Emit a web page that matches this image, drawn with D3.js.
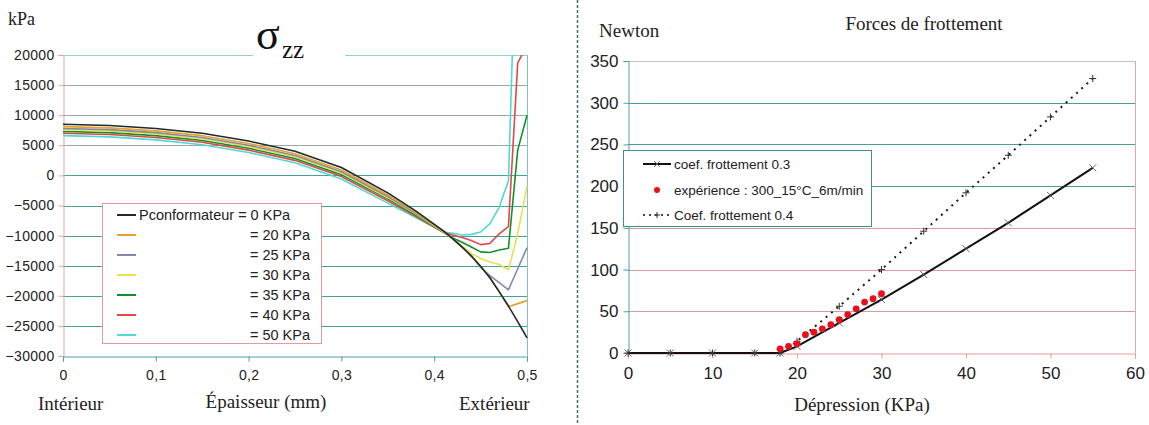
<!DOCTYPE html>
<html><head><meta charset="utf-8">
<script src="https://cdn.jsdelivr.net/npm/d3@7"></script>
<style>
html,body{margin:0;padding:0;background:#fff;}
svg{display:block;}
.serif{font-family:"Liberation Serif","Times New Roman",serif;}
</style></head>
<body>
<svg id="c" width="1149" height="425"></svg>
<script>
// ---------- Left chart data (sigma zz) ----------
const thickness = [0,0.05,0.1,0.15,0.2,0.25,0.3,0.35,0.38,0.41,0.42,0.43,0.44,0.45,0.46,0.47,0.48,0.49,0.5];
const sigmaP0  = [8500,8300,7800,7000,5700,4000,1300,-2900,-5900,-9200,-10500,-11900,-13400,-15100,-17000,-19300,-21700,-24300,-27000];
const sigmaP20 = [8100,7900,7400,6600,5300,3600,900,-3250,-6150,-9300,-10550,-11900,-13400,-15100,-17000,-19300,-21800,-21300,-20800];
const sigmaP25 = [7800,7600,7100,6300,5000,3300,600,-3500,-6300,-9350,-10550,-11850,-13300,-15300,-16650,-17800,-19000,-15500,-12000];
const sigmaP30 = [7600,7400,6900,6100,4800,3100,400,-3700,-6400,-9400,-10500,-11700,-13000,-13800,-14400,-14800,-15700,-9700,-1800];
const sigmaP35 = [7300,7100,6600,5800,4500,2800,100,-3900,-6600,-9450,-10400,-11100,-11900,-12700,-12800,-12400,-12100,4200,10000];
const sigmaP40 = [7000,6800,6300,5500,4200,2500,-200,-4200,-6800,-9500,-9900,-10300,-10800,-11500,-11300,-9700,-8500,18700,21600];
const sigmaP50 = [6600,6400,5900,5100,3800,2100,-600,-4600,-7000,-9400,-9600,-9900,-9800,-9400,-8000,-5300,-900,49000,60000];
const seriesLabels = ["Pconformateur = 0 KPa","= 20 KPa","= 25 KPa","= 30 KPa","= 35 KPa","= 40 KPa","= 50 KPa"];
const seriesColors = ["#1c2b2b","#e8a030","#8088b0","#e8e050","#10902a","#e04848","#50d8d8"];
const leftYTicks = [20000,15000,10000,5000,0,-5000,-10000,-15000,-20000,-25000,-30000];
const leftXTicks = [0,0.1,0.2,0.3,0.4,0.5];

// ---------- Right chart data (forces de frottement) ----------
const depression = [0,5,10,15,18,20,25,30,35,40,45,50,55];
const coef03 = [0,0,0,0,0,8,36,64,94,125,156,189,222];
const coef04 = [0,0,0,0,0,14,56,100,146,192,237,283,329];
const expX = [18,19,20,21,22,23,24,25,26,27,28,29,30];
const expY = [5,8,11,22,25,29,34,40,46,53,61,65,71];
const rightYTicks = [0,50,100,150,200,250,300,350];
const rightXTicks = [0,10,20,30,40,50,60];
const rightLegend = ["coef. frottement 0.3","expérience : 300_15°C_6m/min","Coef. frottement 0.4"];

const svg = d3.select("#c");
const TEAL = "#4a9ea1";

function gridLine(g, x1, x2, y, col) {
  g.append("line").attr("x1",x1).attr("x2",x2).attr("y1",y).attr("y2",y).attr("stroke",col).attr("stroke-width",1.2);
}

// ================= LEFT CHART =================
const xL = d3.scaleLinear().domain([0,0.5]).range([63,527]);
const yL = d3.scaleLinear().domain([-30000,20000]).range([356,55]);
const gL = svg.append("g");

leftYTicks.forEach(t => {
  if (t !== -30000) gridLine(gL, xL(0), xL(0.5), Math.round(yL(t))+0.5, t===20000 ? "#8fd0d2" : (t>0 ? "#9aa8a9" : TEAL));
});
gL.append("line").attr("x1",xL(0.5)+0.5).attr("x2",xL(0.5)+0.5).attr("y1",yL(20000)).attr("y2",yL(-30000)).attr("stroke","#7cc6c8");

const yAxisL = d3.axisLeft(yL).tickValues(leftYTicks).tickSize(5).tickFormat(d3.format("d"));
const yaL = gL.append("g").attr("transform",`translate(${xL(0)+0.5},0)`).call(yAxisL);
yaL.select(".domain").attr("stroke","#e7a3a3");
yaL.selectAll(".tick line").attr("stroke","#e7a3a3");
yaL.selectAll("text").attr("font-size",14).attr("fill","#222").attr("x",-9)
  .attr("font-family","Liberation Sans, Arial, sans-serif").attr("letter-spacing","0.3px");

const xAxisL = d3.axisBottom(xL).tickValues(leftXTicks).tickSize(5).tickFormat(d => d===0? "0" : String(d).replace(".",","));
const xaL = gL.append("g").attr("transform",`translate(0,${Math.round(yL(-30000))+0.5})`).call(xAxisL);
xaL.select(".domain").attr("stroke",TEAL);
xaL.selectAll(".tick line").attr("stroke",TEAL);
xaL.selectAll("text").attr("font-size",14).attr("fill","#222").attr("dy","1.1em")
  .attr("font-family","Liberation Sans, Arial, sans-serif").attr("letter-spacing","0.3px");

gL.append("rect").attr("x",253).attr("y",28).attr("width",92).attr("height",32).attr("fill","#fff");
gL.append("text").attr("class","serif").attr("x",256).attr("y",49).attr("font-size",44).attr("fill","#111").text("σ");
gL.append("text").attr("class","serif").attr("x",282).attr("y",58).attr("font-size",25).attr("fill","#111").text("zz");

svg.append("defs").append("clipPath").attr("id","clipL").append("rect")
  .attr("x",xL(0)).attr("y",yL(20000)).attr("width",xL(0.5)-xL(0)+1).attr("height",yL(-30000)-yL(20000));
const allSigma = [sigmaP0,sigmaP20,sigmaP25,sigmaP30,sigmaP35,sigmaP40,sigmaP50];
const lineL = d3.line().x(d=>xL(d[0])).y(d=>yL(d[1]));
const cg = gL.append("g").attr("clip-path","url(#clipL)");
[6,5,4,3,2,1,0].forEach(i => {
  cg.append("path").datum(thickness.map((x,j)=>[x,allSigma[i][j]]))
    .attr("d",lineL).attr("fill","none").attr("stroke",seriesColors[i]).attr("stroke-width",1.6).attr("stroke-linejoin","round");
});

const lg = gL.append("g");
lg.append("rect").attr("x",102.5).attr("y",203.5).attr("width",219).attr("height",140).attr("fill","#fff").attr("stroke","#e39a9a").attr("stroke-width",1);
seriesLabels.forEach((lab,i) => {
  const y = 215 + i*20;
  lg.append("line").attr("x1",117).attr("x2",136).attr("y1",y).attr("y2",y).attr("stroke",seriesColors[i]).attr("stroke-width",2);
  const t = lg.append("text").attr("y",y+5).attr("font-size",14.5).attr("fill","#222")
    .attr("font-family","Liberation Sans, Arial, sans-serif").text(lab);
  if (i===0) t.attr("x",139); else t.attr("x",310).attr("text-anchor","end");
});

gL.append("text").attr("class","serif").attr("x",8).attr("y",25).attr("font-size",18).attr("fill","#222").text("kPa");
gL.append("text").attr("class","serif").attr("x",38).attr("y",410).attr("font-size",19).attr("fill","#222").text("Intérieur");
gL.append("text").attr("class","serif").attr("x",266).attr("y",408).attr("font-size",19).attr("fill","#222").attr("text-anchor","middle").text("Épaisseur (mm)");
gL.append("text").attr("class","serif").attr("x",459).attr("y",410).attr("font-size",19).attr("fill","#222").text("Extérieur");

svg.append("line").attr("x1",577.5).attr("x2",577.5).attr("y1",0).attr("y2",425)
  .attr("stroke","#3d6f66").attr("stroke-width",1.5).attr("stroke-dasharray","3,2");

// ================= RIGHT CHART =================
const xR = d3.scaleLinear().domain([0,60]).range([628,1135]);
const yR = d3.scaleLinear().domain([0,350]).range([353,61]);
const gR = svg.append("g");

rightYTicks.forEach(t => {
  if (t!==0) gridLine(gR, xR(0), xR(60), Math.round(yR(t))+0.5, t===350 ? "#b9c9c9" : (t>=200 ? TEAL : "#d89a9a"));
});
gR.append("line").attr("x1",xR(60)+0.5).attr("x2",xR(60)+0.5).attr("y1",yR(350)).attr("y2",yR(0)).attr("stroke","#d9aaaa");

const yAxisR = d3.axisLeft(yR).tickValues(rightYTicks).tickSize(5).tickFormat(d3.format("d"));
const yaR = gR.append("g").attr("transform",`translate(${xR(0)+0.5},0)`).call(yAxisR);
yaR.select(".domain").attr("stroke",TEAL);
yaR.selectAll(".tick line").attr("stroke",TEAL);
yaR.selectAll("text").attr("font-size",17).attr("fill","#222").attr("x",-10)
  .attr("font-family","Liberation Sans, Arial, sans-serif");

const xAxisR = d3.axisBottom(xR).tickValues(rightXTicks).tickSize(5).tickFormat(d3.format("d"));
const xaR = gR.append("g").attr("transform",`translate(0,${Math.round(yR(0))+0.5})`).call(xAxisR);
xaR.select(".domain").attr("stroke","#e39a9a");
xaR.selectAll(".tick line").attr("stroke","#e39a9a");
xaR.selectAll("text").attr("font-size",17).attr("fill","#222").attr("dy","1.05em")
  .attr("font-family","Liberation Sans, Arial, sans-serif");

const lineR = d3.line().x(d=>xR(d[0])).y(d=>yR(d[1]));
gR.append("path").datum(depression.map((x,j)=>[x,coef04[j]])).attr("d",lineR)
  .attr("fill","none").attr("stroke","#1a1a1a").attr("stroke-width",2).attr("stroke-dasharray","2,5");
gR.append("path").datum(depression.map((x,j)=>[x,coef03[j]])).attr("d",lineR)
  .attr("fill","none").attr("stroke","#111").attr("stroke-width",2);

function xMark(g,cx,cy,s){
  g.append("path").attr("d",`M${cx-s},${cy-s}L${cx+s},${cy+s}M${cx-s},${cy+s}L${cx+s},${cy-s}`).attr("stroke","#556").attr("stroke-width",0.9).attr("fill","none");
}
function plusMark(g,cx,cy,s){
  g.append("path").attr("d",`M${cx-s},${cy}L${cx+s},${cy}M${cx},${cy-s}L${cx},${cy+s}`).attr("stroke","#333").attr("stroke-width",1).attr("fill","none");
}
depression.forEach((x,j)=>{ xMark(gR,xR(x),yR(coef03[j]),3.5); plusMark(gR,xR(x),yR(coef04[j]),3.5); });

gR.selectAll("circle.exp").data(expX.map((x,j)=>[x,expY[j]])).enter().append("circle")
  .attr("cx",d=>xR(d[0])).attr("cy",d=>yR(d[1])).attr("r",3.4).attr("fill","#e8101a");

const lr = gR.append("g");
lr.append("rect").attr("x",623.5).attr("y",150.5).attr("width",248).attr("height",76).attr("fill","#fff").attr("stroke","#3f8f8f").attr("stroke-width",1);
const ly = [164,190,215];
lr.append("line").attr("x1",643).attr("x2",671).attr("y1",ly[0]).attr("y2",ly[0]).attr("stroke","#111").attr("stroke-width",2);
xMark(lr,657,ly[0],3);
lr.append("circle").attr("cx",657).attr("cy",ly[1]).attr("r",3).attr("fill","#e8101a");
lr.append("line").attr("x1",643).attr("x2",671).attr("y1",ly[2]).attr("y2",ly[2]).attr("stroke","#111").attr("stroke-width",1.5).attr("stroke-dasharray","2,4");
plusMark(lr,657,ly[2],3);
rightLegend.forEach((lab,i)=>{
  lr.append("text").attr("x",674).attr("y",ly[i]+5).attr("font-size",13.5).attr("fill","#222")
    .attr("font-family","Liberation Sans, Arial, sans-serif").text(lab);
});

gR.append("text").attr("class","serif").attr("x",599).attr("y",37).attr("font-size",19).attr("fill","#222").text("Newton");
gR.append("text").attr("class","serif").attr("x",924).attr("y",30).attr("font-size",19).attr("fill","#222").attr("text-anchor","middle").text("Forces de frottement");
gR.append("text").attr("class","serif").attr("x",862).attr("y",411).attr("font-size",19).attr("fill","#222").attr("text-anchor","middle").text("Dépression (KPa)");
</script>
</body></html>
